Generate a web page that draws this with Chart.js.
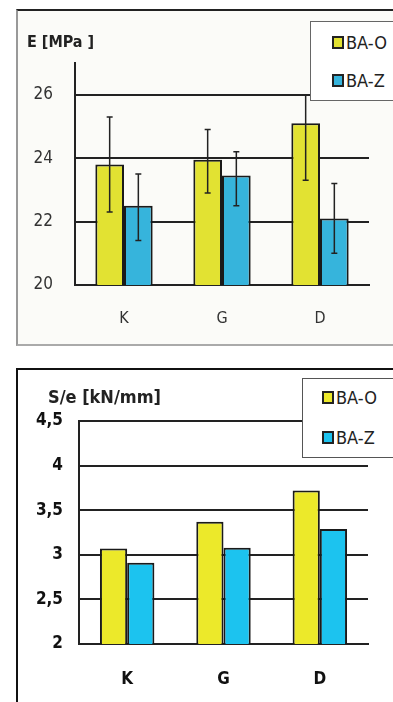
<!DOCTYPE html>
<html>
<head>
<meta charset="utf-8">
<script src="https://cdn.jsdelivr.net/npm/chart.js@4.4.1/dist/chart.umd.min.js"></script>
<style>
  body { margin: 0; background: #fff; width: 393px; height: 702px; overflow: hidden; position: relative; }
  .frame { position: absolute; box-sizing: border-box; }
  #frameTop { left: 16px; top: 9px; width: 400px; height: 337px; background: #fbfbf8;
    border-top: 2px solid #222; border-left: 2px solid #999; border-bottom: 2px solid #aaa; }
  #frameBottom { left: 16px; top: 368px; width: 400px; height: 340px; background: #fff;
    border-top: 2px solid #111; border-left: 2px solid #111; }
  .chartBox { position: absolute; }
  .title { position: absolute; font-family: "Liberation Sans Narrow", "DejaVu Sans Condensed", sans-serif; color: #222; white-space: nowrap; }
  .legend { position: absolute; background: #fff; box-sizing: border-box; font-family: "Liberation Sans Narrow", "DejaVu Sans Condensed", sans-serif; color: #222; }
  .item { position: absolute; display: flex; align-items: center; white-space: nowrap; }
  .swatch { width: 8px; height: 9px; border: 2px solid #222; margin-right: 2px; }
</style>
</head>
<body>
<div class="frame" id="frameTop"></div>
<div class="frame" id="frameBottom"></div>

<div class="chartBox" style="left:17px; top:10px; width:376px; height:334px;"><canvas id="chartE"></canvas></div>
<div class="chartBox" style="left:18px; top:371px; width:375px; height:331px;"><canvas id="chartS"></canvas></div>

<div class="title" style="left:27px; top:32px; font-size:16px; font-weight:bold;">E [MPa ]</div>
<div class="title" style="left:48px; top:386px; font-size:18px; font-weight:bold;">S/e [kN/mm]</div>

<div class="legend" style="left:310px; top:21px; width:100px; height:80px; border:1px solid #666;">
  <div class="item" style="left:21px; top:10px; font-size:18px;"><span class="swatch" style="background:#e2e232"></span>BA-O</div>
  <div class="item" style="left:21px; top:48px; font-size:18px;"><span class="swatch" style="background:#36b4dc"></span>BA-Z</div>
</div>
<div class="legend" style="left:302px; top:378px; width:100px; height:80px; border:1.5px solid #555;">
  <div class="item" style="left:19px; top:8px; font-size:18px;"><span class="swatch" style="background:#ece92a"></span>BA-O</div>
  <div class="item" style="left:19px; top:48px; font-size:18px;"><span class="swatch" style="background:#1cc3ef"></span>BA-Z</div>
</div>

<script>
const categories = ['K', 'G', 'D'];
const seriesNames = ['BA-O', 'BA-Z'];

// E [MPa] with error bars
const eBaO = [23.8, 23.95, 25.1];
const eBaOHigh = [25.3, 24.9, 26.0];
const eBaOLow = [22.3, 22.9, 23.3];
const eBaZ = [22.5, 23.45, 22.1];
const eBaZHigh = [23.5, 24.2, 23.2];
const eBaZLow = [21.4, 22.5, 21.0];
const eTicks = [20, 22, 24, 26];

// S/e [kN/mm]
const seBaO = [3.07, 3.37, 3.72];
const seBaZ = [2.91, 3.08, 3.29];
const seTicks = [2, 2.5, 3, 3.5, 4, 4.5];

const FONT = '"Liberation Sans Narrow", "DejaVu Sans Condensed", sans-serif';

const errorBars = {
  id: 'errorBars',
  afterDatasetsDraw(chart) {
    const errs = chart.options.plugins.errorBars;
    if (!errs) return;
    const c = chart.ctx;
    const y = chart.scales.y;
    c.save();
    c.strokeStyle = '#222';
    c.lineWidth = 1.5;
    chart.data.datasets.forEach((ds, i) => {
      const meta = chart.getDatasetMeta(i);
      meta.data.forEach((bar, j) => {
        const top = y.getPixelForValue(errs[i].high[j]);
        const bot = y.getPixelForValue(errs[i].low[j]);
        c.beginPath();
        c.moveTo(bar.x, top); c.lineTo(bar.x, bot);
        c.moveTo(bar.x - 3, top); c.lineTo(bar.x + 3, top);
        c.moveTo(bar.x - 3, bot); c.lineTo(bar.x + 3, bot);
        c.stroke();
      });
    });
    c.restore();
  }
};

function keepTicks(list) {
  return scale => { scale.ticks = list.map(v => ({ value: v })); };
}

new Chart(document.getElementById('chartE'), {
  type: 'bar',
  data: {
    labels: categories,
    datasets: [
      { label: seriesNames[0], data: eBaO, backgroundColor: '#e2e232', borderColor: '#1a1a1a', borderWidth: 2, borderSkipped: 'bottom' },
      { label: seriesNames[1], data: eBaZ, backgroundColor: '#36b4dc', borderColor: '#1a1a1a', borderWidth: 2, borderSkipped: 'bottom' }
    ]
  },
  options: {
    responsive: true,
    maintainAspectRatio: false,
    animation: false,
    layout: { padding: { top: 53, right: 24, left: 0, bottom: 0 } },
    datasets: { bar: { categoryPercentage: 0.585, barPercentage: 1 } },
    plugins: {
      legend: { display: false },
      tooltip: { enabled: false },
      errorBars: [
        { high: eBaOHigh, low: eBaOLow },
        { high: eBaZHigh, low: eBaZLow }
      ]
    },
    scales: {
      x: {
        grid: { display: false, drawTicks: false },
        border: { color: '#222', width: 2 },
        ticks: { padding: 24, color: '#333', font: { family: FONT, size: 16 } },
        afterFit: s => { s.height = 59; }
      },
      y: {
        min: 20, max: 27,
        afterBuildTicks: keepTicks(eTicks),
        grid: { color: '#222', lineWidth: 2, drawTicks: false },
        border: { color: '#222', width: 2 },
        ticks: { padding: 22, color: '#333', font: { family: FONT, size: 17 } },
        afterFit: s => { s.width = 58; }
      }
    }
  },
  plugins: [errorBars]
});

new Chart(document.getElementById('chartS'), {
  type: 'bar',
  data: {
    labels: categories,
    datasets: [
      { label: seriesNames[0], data: seBaO, backgroundColor: '#ece92a', borderColor: '#1a1a1a', borderWidth: 2, borderSkipped: 'bottom' },
      { label: seriesNames[1], data: seBaZ, backgroundColor: '#1cc3ef', borderColor: '#1a1a1a', borderWidth: 2, borderSkipped: 'bottom' }
    ]
  },
  options: {
    responsive: true,
    maintainAspectRatio: false,
    animation: false,
    layout: { padding: { top: 50, right: 25, left: 0, bottom: 0 } },
    datasets: { bar: { categoryPercentage: 0.565, barPercentage: 1 } },
    plugins: { legend: { display: false }, tooltip: { enabled: false } },
    scales: {
      x: {
        grid: { display: false, drawTicks: false },
        border: { color: '#222', width: 2 },
        ticks: { padding: 25, color: '#111', font: { family: FONT, size: 17, weight: 'bold' } },
        afterFit: s => { s.height = 58; }
      },
      y: {
        min: 2, max: 4.5,
        afterBuildTicks: keepTicks(seTicks),
        grid: { color: '#222', lineWidth: 2, drawTicks: false },
        border: { color: '#222', width: 2 },
        ticks: {
          padding: 16, color: '#111', font: { family: FONT, size: 17, weight: 'bold' },
          callback: v => String(v).replace('.', ',')
        },
        afterFit: s => { s.width = 61; }
      }
    }
  }
});
</script>
</body>
</html>
